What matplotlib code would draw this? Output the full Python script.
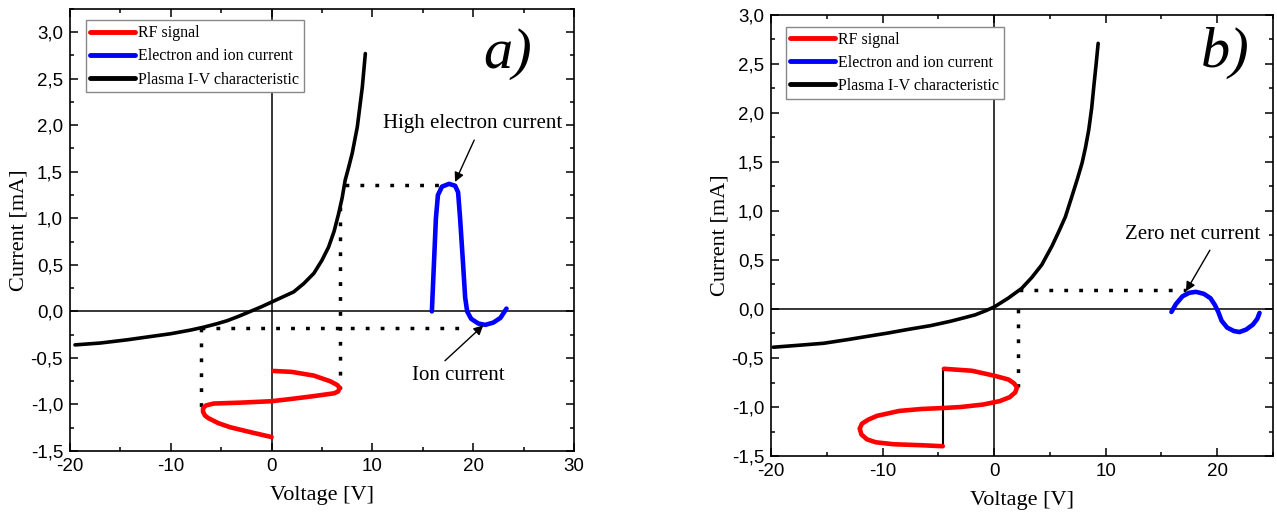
import matplotlib
matplotlib.use("Agg")
import matplotlib.pyplot as plt
from matplotlib.ticker import MultipleLocator, FuncFormatter

# Panel a) -- I-V characteristic, RF signal and resulting current
iv_a_x = [-19.5, -17, -14.3, -12, -10, -8, -6.75, -5.5, -4.4, -3.2, -2.1, -1, 0, 1, 2.2,
          3.2, 4.2, 5, 5.65, 6.2, 6.65, 7.0, 7.3, 7.65, 8.0, 8.5, 9.0, 9.3]
iv_a_y = [-0.36, -0.34, -0.305, -0.27, -0.24, -0.20, -0.17, -0.135, -0.10, -0.05, 0.0,
          0.05, 0.10, 0.15, 0.21, 0.30, 0.41, 0.55, 0.69, 0.86, 1.05, 1.22, 1.41, 1.55,
          1.70, 1.98, 2.41, 2.77]
rf_a_x = [0.2, 2, 4.2, 5.8, 6.5, 6.75, 6.6, 6.2, 4.2, 2, 0, -3, -5.75, -6.5, -6.8, -6.8,
          -6.6, -6.3, -5.3, -4.1, -2, 0]
rf_a_y = [-0.64, -0.65, -0.69, -0.75, -0.79, -0.82, -0.86, -0.88, -0.91, -0.94, -0.965,
          -0.98, -0.99, -1.01, -1.04, -1.08, -1.12, -1.145, -1.20, -1.245, -1.30, -1.35]
cur_a_x = [15.9, 16.1, 16.3, 16.5, 16.9, 17.6, 18.2, 18.5, 18.7, 19.0, 19.2, 19.4, 19.8,
           20.5, 21.2, 22.0, 22.7, 23.3]
cur_a_y = [0.0, 0.5, 1.0, 1.25, 1.34, 1.37, 1.35, 1.28, 1.0, 0.5, 0.15, 0.0, -0.08,
           -0.13, -0.145, -0.12, -0.07, 0.03]

# Panel b)
iv_b_x = [-19.8, -17.5, -15.3, -13, -11.4, -9.5, -7.8, -5.7, -3.9, -2.7, -1.7, -0.8, 0,
          1.26, 2.47, 3.37, 4.27, 5.18, 5.8, 6.39, 6.98, 7.45, 7.89, 8.2, 8.49, 8.75,
          8.94, 9.15, 9.33]
iv_b_y = [-0.39, -0.37, -0.35, -0.31, -0.28, -0.245, -0.21, -0.17, -0.125, -0.09, -0.06,
          -0.02, 0.02, 0.11, 0.21, 0.32, 0.45, 0.64, 0.79, 0.94, 1.15, 1.32, 1.49, 1.65,
          1.83, 2.05, 2.27, 2.5, 2.71]
rf_b_x = [-4.5, -2, 0, 1.3, 1.8, 2.05, 1.9, 1.4, 0.5, -1, -3, -4.5, -6.5, -8.5, -10.5,
          -11.3, -11.85, -12.05, -11.9, -11.4, -10.6, -9.0, -6.5, -4.6]
rf_b_y = [-0.61, -0.63, -0.68, -0.72, -0.76, -0.80, -0.85, -0.90, -0.94, -0.975, -1.0,
          -1.01, -1.02, -1.04, -1.09, -1.13, -1.17, -1.22, -1.28, -1.33, -1.36, -1.38,
          -1.39, -1.40]
cur_b_x = [15.9, 16.3, 16.9, 17.5, 18.1, 18.8, 19.4, 19.8, 20.1, 20.4, 20.9, 21.5, 22.0,
           22.6, 23.2, 23.6, 23.8]
cur_b_y = [-0.03, 0.05, 0.13, 0.165, 0.175, 0.155, 0.11, 0.04, -0.03, -0.12, -0.19,
           -0.225, -0.235, -0.21, -0.16, -0.10, -0.04]

# dotted projection lines: (x list, y list)
dots_a = [([7.3, 17.3], [1.36, 1.36]), ([6.8, 6.8], [1.12, -0.83]),
          ([-7, 19.3], [-0.175, -0.175]), ([-7, -7], [-0.175, -1.08])]
dots_b = [([2.2, 17.2], [0.19, 0.19]), ([2.15, 2.15], [0.0, -0.80])]
step_b_x = [-4.6, -4.6]
step_b_y = [-1.40, -0.61]

serif = "Liberation Serif"
sans = "Liberation Sans"

fig = plt.figure(figsize=(12.77, 5.22), dpi=100)
ax1 = fig.add_axes([0.0548, 0.136, 0.3947, 0.847])
ax2 = fig.add_axes([0.6038, 0.1264, 0.393, 0.845])


def style(ax, xlim, ylim):
    ax.set_xlim(*xlim)
    ax.set_ylim(*ylim)
    ax.axhline(0, color="black", lw=1.1, zorder=1)
    ax.axvline(0, color="black", lw=1.1, zorder=1)
    ax.xaxis.set_major_locator(MultipleLocator(10))
    ax.xaxis.set_minor_locator(MultipleLocator(5))
    ax.yaxis.set_major_locator(MultipleLocator(0.5))
    ax.yaxis.set_minor_locator(MultipleLocator(0.25))
    ax.yaxis.set_major_formatter(FuncFormatter(lambda v, p: f"{v:.1f}".replace(".", ",")))
    ax.xaxis.set_major_formatter(FuncFormatter(lambda v, p: f"{v:.0f}"))
    ax.tick_params(which="both", direction="in", top=True, right=True, width=1.1)
    ax.tick_params(which="major", length=6, labelsize=13.5, pad=5)
    ax.tick_params(which="minor", length=3)
    for lab in ax.get_xticklabels() + ax.get_yticklabels():
        lab.set_family(sans)
    for sp in ax.spines.values():
        sp.set_linewidth(1.2)
    ax.set_xlabel("Voltage [V]", fontsize=16, family=serif, labelpad=8)
    ax.set_ylabel("Current [mA]", fontsize=16, family=serif, labelpad=6)


for ax, dots in [(ax1, dots_a), (ax2, dots_b)]:
    for xs, ys in dots:
        ax.plot(xs, ys, color="black", lw=2.5, linestyle=(0, (1.1, 3.2)), zorder=2)

curve = dict(solid_joinstyle="round", solid_capstyle="round", zorder=3)
ax1.plot(rf_a_x, rf_a_y, color="#ff0000", lw=3.3, label="RF signal", **curve)
ax1.plot(cur_a_x, cur_a_y, color="#0000ff", lw=3.3, label="Electron and ion current", **curve)
ax1.plot(iv_a_x, iv_a_y, color="black", lw=2.6, label="Plasma I-V characteristic", **curve)

ax2.plot(step_b_x, step_b_y, color="black", lw=1.5, zorder=2)
ax2.plot(rf_b_x, rf_b_y, color="#ff0000", lw=3.3, label="RF signal", **curve)
ax2.plot(cur_b_x, cur_b_y, color="#0000ff", lw=3.3, label="Electron and ion current", **curve)
ax2.plot(iv_b_x, iv_b_y, color="black", lw=2.6, label="Plasma I-V characteristic", **curve)

style(ax1, (-20, 30), (-1.5, 3.25))
style(ax2, (-20, 25), (-1.5, 3.0))

arrow = dict(arrowstyle="-|>", color="black", lw=1.0, mutation_scale=14, shrinkA=0, shrinkB=0)
ax1.annotate("", xy=(18.2, 1.39), xytext=(20.1, 1.84), arrowprops=arrow)
ax1.text(19.9, 2.02, "High electron current", fontsize=15, family=serif, ha="center", va="center")
ax1.annotate("", xy=(21.0, -0.15), xytext=(17.2, -0.53), arrowprops=arrow)
ax1.text(18.5, -0.69, "Ion current", fontsize=15, family=serif, ha="center", va="center")
ax1.text(23.4, 2.76, "a)", fontsize=42, family=serif, style="italic", ha="center", va="center")

ax2.annotate("", xy=(17.2, 0.18), xytext=(19.35, 0.6), arrowprops=arrow)
ax2.text(17.8, 0.76, "Zero net current", fontsize=15, family=serif, ha="center", va="center")
ax2.text(20.7, 2.61, "b)", fontsize=42, family=serif, style="italic", ha="center", va="center")

for ax, anchor in [(ax1, (0.031, 0.974)), (ax2, (0.029, 0.973))]:
    leg = ax.legend(loc="upper left", bbox_to_anchor=anchor, borderaxespad=0,
                    prop={"family": serif, "size": 11.5}, handlelength=2.8,
                    handletextpad=0.2, labelspacing=0.45, borderpad=0.3,
                    fancybox=False, framealpha=1)
    leg.get_frame().set_edgecolor("#888888")
    leg.get_frame().set_linewidth(1.0)
    for h in leg.get_lines():
        h.set_linewidth(3.5)

ax1.yaxis.set_label_coords(-0.082, 0.5)
ax2.yaxis.set_label_coords(-0.082, 0.5)

fig.savefig("out.png", dpi=100)
